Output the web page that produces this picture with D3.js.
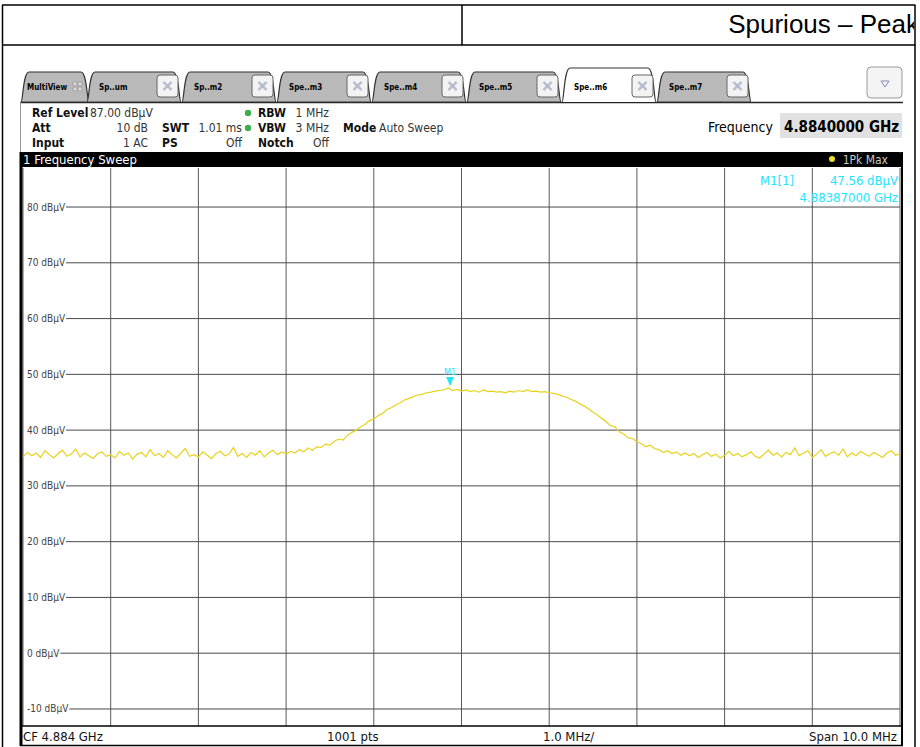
<!DOCTYPE html>
<html>
<head>
<meta charset="utf-8">
<script src="https://cdn.jsdelivr.net/npm/d3@7"></script>
<style>
  body { margin: 0; background: #fff; }
  svg { display: block; }
</style>
</head>
<body>
<svg id="chart" width="920" height="747"></svg>
<script>
// Sweep settings
const refLevel = 87;
const bottomLevel = -13;
const startFreq = 4.879;   // GHz
const stopFreq = 4.889;    // GHz
const freqStep = 0.00005;  // GHz between trace samples
const levelTicks = [80, 70, 60, 50, 40, 30, 20, 10, 0, -10];

// Trace 1 (Pk Max), dBuV
const traceLevels = [
  35.2, 36.0, 35.4, 35.9, 35.1, 36.3, 35.6, 35.0, 35.8, 36.4,
  35.3, 35.7, 36.6, 35.2, 35.9, 35.4, 34.9, 35.8, 36.1, 35.3,
  35.6, 35.0, 36.2, 35.5, 35.9, 34.8, 35.7, 36.0, 35.2, 36.5,
  35.4, 35.8, 35.1, 36.3, 35.6, 35.0, 35.9, 36.7, 35.3, 35.6,
  35.2, 36.1, 35.5, 34.9, 35.8, 36.2, 35.4, 35.7, 36.9, 35.3,
  35.8, 35.1, 36.0, 35.5, 36.3, 35.2, 35.9, 36.4, 35.6, 36.1,
  35.7, 36.2, 35.9, 36.5, 36.1, 36.8, 36.4, 37.0, 36.9, 37.5,
  37.3, 38.0, 38.4, 38.2, 39.1, 39.6, 40.0, 40.6, 41.0, 41.7,
  42.0, 42.6, 43.0, 43.7, 44.0, 44.5, 44.9, 45.4, 45.7, 46.0,
  46.3, 46.4, 46.7, 46.8, 47.0, 47.1, 47.2, 47.56, 47.1, 47.3,
  47.0, 47.2, 46.9, 47.1, 46.8, 47.2, 46.9, 47.0, 46.8, 46.9,
  46.7, 47.0, 46.8, 47.1, 46.9, 47.2, 46.9, 47.0, 46.8, 46.9,
  46.7, 46.6, 46.4, 46.1, 45.9, 45.5, 45.2, 44.7, 44.3, 43.8,
  43.2, 42.7, 42.1, 41.5, 40.8, 40.6, 39.7, 39.3, 38.6, 38.5,
  37.9, 37.6, 37.0, 37.3, 36.7, 36.5, 36.0, 36.3, 35.8, 36.1,
  35.5, 35.9, 35.4, 35.8, 35.1, 35.6, 36.0, 35.3, 35.7, 35.0,
  35.5, 36.2, 35.4, 35.8, 35.2, 35.6, 36.1, 35.3, 35.0, 35.7,
  36.4, 35.5, 35.9, 35.2, 36.0, 35.6, 36.8, 35.4, 35.9, 36.3,
  35.1, 35.7, 36.5, 35.3, 35.8, 36.1, 35.5, 36.6, 35.2, 35.9,
  35.4, 36.2, 35.7, 35.3, 36.0, 35.6, 35.1, 35.9, 36.3, 35.5,
  35.8
];

const marker = { name: 'M1', freq: 4.88387, level: 47.56 };
const tabNames = ['Sp..um', 'Sp..m2', 'Spe..m3', 'Spe..m4', 'Spe..m5', 'Spe..m6', 'Spe..m7'];
const activeTab = 'Spe..m6';

const svg = d3.select('#chart');
const uiFont = "'DejaVu Sans Condensed', 'DejaVu Sans', sans-serif";

// Plot area
const plot = { left: 23, right: 900, top: 168, bottom: 725.7 };
const x = d3.scaleLinear().domain([startFreq, stopFreq]).range([plot.left, plot.right]);
const y = d3.scaleLinear().domain([bottomLevel, refLevel]).range([plot.bottom, plot.top]);

// --- report table frame ---
const frame = svg.append('g').attr('stroke', '#000').attr('stroke-width', 1.5);
frame.append('line').attr('x1', 2).attr('x2', 915.5).attr('y1', 5).attr('y2', 5);
frame.append('line').attr('x1', 2).attr('x2', 915.5).attr('y1', 45).attr('y2', 45);
frame.append('line').attr('x1', 462).attr('x2', 462).attr('y1', 5).attr('y2', 45);
frame.append('line').attr('x1', 2.5).attr('x2', 2.5).attr('y1', 5).attr('y2', 747);
frame.append('line').attr('x1', 915).attr('x2', 915).attr('y1', 5).attr('y2', 747);

svg.append('clipPath').attr('id', 'titleClip')
  .append('rect').attr('x', 463).attr('y', 5).attr('width', 451).attr('height', 40);
svg.append('text')
  .attr('clip-path', 'url(#titleClip)')
  .attr('x', 919).attr('y', 33)
  .attr('text-anchor', 'end')
  .style('font-family', "'Liberation Sans', Arial, sans-serif")
  .style('font-size', '26px')
  .text('Spurious – Peak');

// --- tab strip ---
const tabs = svg.append('g');
const tabX = d3.scaleLinear().domain([0, 1]).range([87, 182]);
const tabW = 94;

function tabPath(x0, w, top) {
  const b = 102;
  return `M${x0},${b} C${x0 + 2},${b} ${x0 + 2},${top} ${x0 + 8},${top}` +
    ` L${x0 + w - 8},${top} C${x0 + w - 2},${top} ${x0 + w - 2},${b} ${x0 + w},${b}`;
}

tabs.append('line')
  .attr('x1', 20).attr('x2', 903).attr('y1', 102.5).attr('y2', 102.5)
  .attr('stroke', '#222').attr('stroke-width', 1.5);

// MultiView tab
tabs.append('path')
  .attr('d', tabPath(21, 68, 72) + ' Z')
  .attr('fill', '#b9b9b9').attr('stroke', '#333').attr('stroke-width', 1.2);
tabs.append('text')
  .attr('x', 27).attr('y', 90)
  .style('font-family', uiFont).style('font-size', '8px').style('font-weight', 'bold')
  .text('MultiView');
const mv = tabs.append('g').attr('transform', 'translate(73,82)');
[[0, 0], [5, 0], [0, 5], [5, 5]].forEach(([dx, dy]) => {
  mv.append('rect').attr('x', dx).attr('y', dy).attr('width', 4).attr('height', 4).attr('rx', 1.2)
    .attr('fill', '#d8d8d8').attr('stroke', '#888').attr('stroke-width', 0.6);
});

tabNames.forEach((name, i) => {
  const active = name === activeTab;
  const x0 = tabX(i);
  const top = active ? 68 : 72;
  const g = tabs.append('g');
  g.append('path')
    .attr('d', tabPath(x0, tabW, top) + (active ? '' : ' Z'))
    .attr('fill', active ? '#fff' : '#b9b9b9')
    .attr('stroke', '#333').attr('stroke-width', 1.2);
  g.append('text')
    .attr('x', x0 + 12).attr('y', 90)
    .style('font-family', uiFont).style('font-size', '8px').style('font-weight', 'bold')
    .text(name);
  // close button
  const bx = x0 + tabW - 24;
  g.append('rect')
    .attr('x', bx).attr('y', 75).attr('width', 21).attr('height', 22).attr('rx', 3)
    .attr('fill', '#f3f3f3').attr('stroke', '#666').attr('stroke-width', 1);
  const cx = bx + 10.5, cy = 86;
  [[-4, -4, 4, 4], [-4, 4, 4, -4]].forEach(([a, b, c, d]) => {
    g.append('line')
      .attr('x1', cx + a).attr('y1', cy + b).attr('x2', cx + c).attr('y2', cy + d)
      .attr('stroke', '#9aa3bd').attr('stroke-width', 2.2);
    g.append('line')
      .attr('x1', cx + a).attr('y1', cy + b).attr('x2', cx + c).attr('y2', cy + d)
      .attr('stroke', '#f3f3f3').attr('stroke-width', 0.7);
  });
});

// dropdown button
tabs.append('rect')
  .attr('x', 867).attr('y', 67).attr('width', 35).attr('height', 31).attr('rx', 4)
  .attr('fill', '#f4f4f4').attr('stroke', '#999');
tabs.append('path')
  .attr('d', 'M881,81 L889,81 L885,87 Z')
  .attr('fill', 'none').attr('stroke', '#8088b8').attr('stroke-width', 1);

// --- settings block ---
const settings = svg.append('g').style('font-family', uiFont).style('font-size', '12px').attr('fill', '#111');
svg.append('line').attr('x1', 20.5).attr('x2', 20.5).attr('y1', 102).attr('y2', 152)
  .attr('stroke', '#999');

const rowY = [117, 132, 147];
const settingLabels = [
  { t: 'Ref Level', x: 32, r: 0 }, { t: 'Att', x: 32, r: 1 }, { t: 'Input', x: 32, r: 2 },
  { t: 'SWT', x: 162, r: 1 }, { t: 'PS', x: 162, r: 2 },
  { t: 'RBW', x: 258, r: 0 }, { t: 'VBW', x: 258, r: 1 }, { t: 'Notch', x: 258, r: 2 },
  { t: 'Mode', x: 343, r: 1 }
];
const settingValues = [
  { t: '87.00 dBµV', x: 90, r: 0, anchor: 'start' },
  { t: '10 dB', x: 148, r: 1, anchor: 'end' },
  { t: '1 AC', x: 148, r: 2, anchor: 'end' },
  { t: '1.01 ms', x: 242, r: 1, anchor: 'end' },
  { t: 'Off', x: 242, r: 2, anchor: 'end' },
  { t: '1 MHz', x: 329, r: 0, anchor: 'end' },
  { t: '3 MHz', x: 329, r: 1, anchor: 'end' },
  { t: 'Off', x: 329, r: 2, anchor: 'end' },
  { t: 'Auto Sweep', x: 379, r: 1, anchor: 'start' }
];
settings.selectAll('text.lbl').data(settingLabels).enter().append('text')
  .attr('class', 'lbl').attr('x', d => d.x).attr('y', d => rowY[d.r])
  .style('font-weight', 'bold').text(d => d.t);
settings.selectAll('text.val').data(settingValues).enter().append('text')
  .attr('class', 'val').attr('x', d => d.x).attr('y', d => rowY[d.r])
  .attr('text-anchor', d => d.anchor).attr('fill', '#333').text(d => d.t);
[rowY[0], rowY[1]].forEach(ry => {
  settings.append('circle').attr('cx', 248).attr('cy', ry - 4).attr('r', 3.2).attr('fill', '#3fae4a');
});

svg.append('rect').attr('x', 780).attr('y', 113).attr('width', 122).attr('height', 25).attr('fill', '#e1e1e1');
svg.append('text').attr('x', 708).attr('y', 132)
  .style('font-family', uiFont).style('font-size', '14px').text('Frequency');
svg.append('text').attr('x', 784).attr('y', 132)
  .style('font-family', uiFont).style('font-size', '15px').style('font-weight', 'bold')
  .text('4.8840000 GHz');

// --- window title bar ---
svg.append('path')
  .attr('d', 'M20,167 L20,156 Q20,152 24,152 L899,152 Q903,152 903,156 L903,167 Z')
  .attr('fill', '#000');
svg.append('text').attr('x', 23).attr('y', 164)
  .attr('fill', '#fff').style('font-family', uiFont).style('font-size', '13px')
  .text('1 Frequency Sweep');
svg.append('circle').attr('cx', 832).attr('cy', 159).attr('r', 3).attr('fill', '#f2dc28');
svg.append('text').attr('x', 888).attr('y', 164).attr('text-anchor', 'end')
  .attr('fill', '#c8c8c8').style('font-family', uiFont).style('font-size', '12px')
  .text('1Pk Max');

// --- grid ---
const grid = svg.append('g');
grid.selectAll('line.v').data(x.ticks(10)).enter().append('line')
  .attr('class', 'v')
  .attr('x1', d => x(d)).attr('x2', d => x(d))
  .attr('y1', plot.top).attr('y2', plot.bottom)
  .attr('stroke', '#5a5a5a').attr('stroke-width', 1);

const yLabels = grid.selectAll('text.yl').data(levelTicks).enter().append('text')
  .attr('class', 'yl')
  .attr('x', 27).attr('y', d => y(d) + 3.5)
  .attr('fill', '#444')
  .style('font-family', uiFont).style('font-size', '10px')
  .text(d => `${d} dBµV`);
yLabels.each(function (d) {
  const w = this.getComputedTextLength();
  grid.append('line')
    .attr('x1', 27 + w + 1).attr('x2', plot.right)
    .attr('y1', y(d)).attr('y2', y(d))
    .attr('stroke', '#4a4a4a').attr('stroke-width', 1);
});

// --- trace ---
const line = d3.line()
  .x((d, i) => x(startFreq + i * freqStep))
  .y(d => y(d));
svg.append('path')
  .datum(traceLevels)
  .attr('d', line)
  .attr('fill', 'none')
  .attr('stroke', '#e8d21c')
  .attr('stroke-width', 1.2);

// --- marker ---
const cyan = '#22e4ff';
const mx = x(marker.freq), my = y(marker.level);
svg.append('path')
  .attr('d', `M${mx - 4},${my - 11} L${mx + 4},${my - 11} L${mx},${my - 2} Z`)
  .attr('fill', cyan);
svg.append('text').attr('x', mx).attr('y', my - 13).attr('text-anchor', 'middle')
  .attr('fill', cyan).style('font-family', uiFont).style('font-size', '9px')
  .text(marker.name);

const mInfo = svg.append('g').attr('fill', cyan).style('font-family', uiFont).style('font-size', '13px');
mInfo.append('text').attr('x', 760).attr('y', 185).text(`${marker.name}[1]`);
mInfo.append('text').attr('x', 898).attr('y', 185).attr('text-anchor', 'end')
  .text(`${marker.level.toFixed(2)} dBµV`);
mInfo.append('text').attr('x', 898).attr('y', 202).attr('text-anchor', 'end')
  .text(`${marker.freq.toFixed(8)} GHz`);

// --- plot border & footer ---
const border = svg.append('g').attr('stroke', '#000');
border.append('line').attr('x1', 21).attr('x2', 21).attr('y1', 152).attr('y2', 746).attr('stroke-width', 3);
border.append('line').attr('x1', 902).attr('x2', 902).attr('y1', 152).attr('y2', 746).attr('stroke-width', 2);
border.append('line').attr('x1', 20).attr('x2', 903).attr('y1', 726).attr('y2', 726).attr('stroke-width', 1.5);
border.append('line').attr('x1', 20).attr('x2', 903).attr('y1', 745.5).attr('y2', 745.5).attr('stroke-width', 1.5);

const footer = svg.append('g').style('font-family', uiFont).style('font-size', '13px').attr('fill', '#111');
footer.append('text').attr('x', 23).attr('y', 741).text(`CF ${((startFreq + stopFreq) / 2).toFixed(3)} GHz`);
footer.append('text').attr('x', 327).attr('y', 741).text('1001 pts');
footer.append('text').attr('x', 543).attr('y', 741).text('1.0 MHz/');
footer.append('text').attr('x', 897).attr('y', 741).attr('text-anchor', 'end')
  .text(`Span ${((stopFreq - startFreq) * 1000).toFixed(1)} MHz`);
</script>
</body>
</html>
